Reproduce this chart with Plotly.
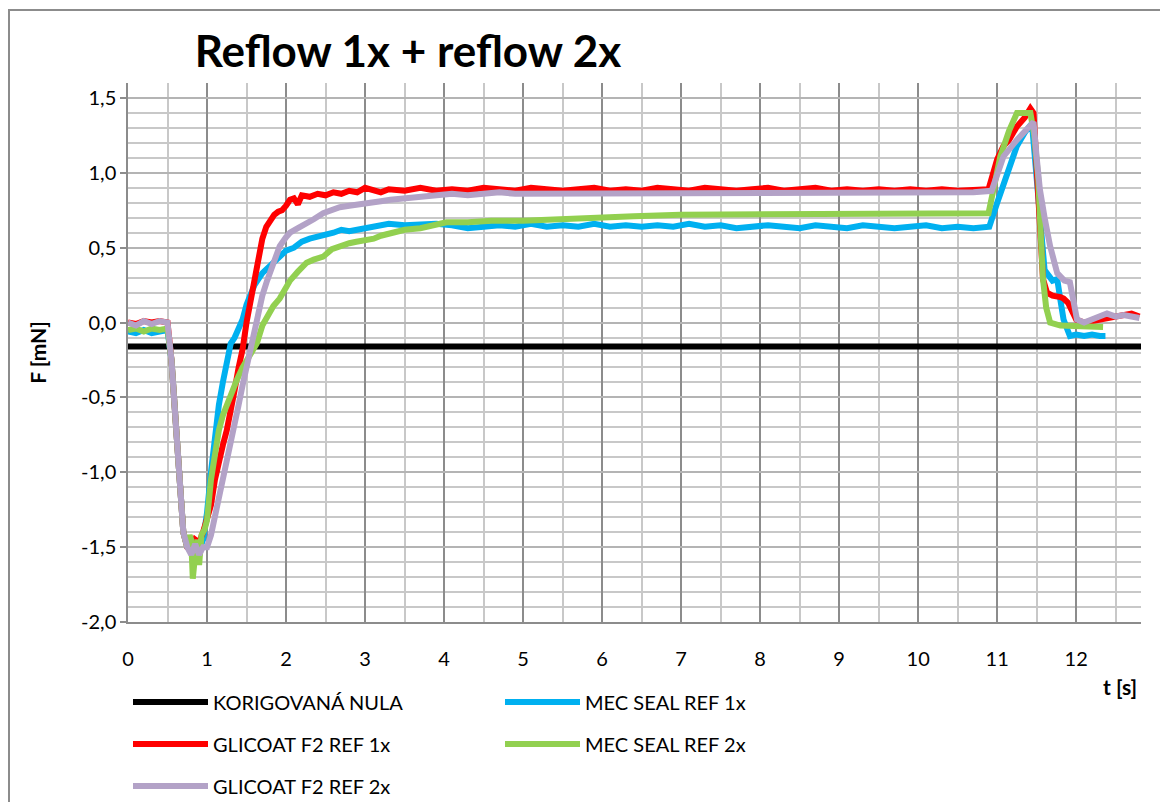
import plotly.graph_objects as go

# ---------------- data ----------------
zero_t = [0.0, 12.82]
zero_f = [-0.16, -0.16]

blue_pts = [
    (0.0, -0.06), (0.1, -0.07), (0.2, -0.05), (0.3, -0.07), (0.4, -0.06), (0.5, -0.05),
    (0.55, -0.25), (0.6, -0.6), (0.65, -1.05), (0.7, -1.4), (0.75, -1.5), (0.8, -1.53),
    (0.85, -1.5), (0.9, -1.52), (0.95, -1.45), (1.0, -1.27), (1.05, -1.0), (1.1, -0.75),
    (1.15, -0.55), (1.2, -0.4), (1.25, -0.25), (1.3, -0.14), (1.35, -0.1), (1.4, -0.05),
    (1.45, 0.02), (1.5, 0.12), (1.55, 0.2), (1.6, 0.25), (1.7, 0.33), (1.8, 0.38),
    (1.9, 0.43), (2.0, 0.48), (2.1, 0.5), (2.2, 0.54), (2.3, 0.56), (2.4, 0.57),
    (2.5, 0.58), (2.6, 0.6), (2.7, 0.62), (2.8, 0.61), (2.9, 0.62), (3.0, 0.63),
    (3.1, 0.64), (3.2, 0.64), (3.3, 0.66), (3.5, 0.65), (3.7, 0.66), (3.9, 0.66),
    (4.1, 0.65), (4.3, 0.63), (4.5, 0.64), (4.7, 0.65), (4.9, 0.64), (5.1, 0.66),
    (5.3, 0.64), (5.5, 0.65), (5.7, 0.64), (5.9, 0.66), (6.1, 0.64), (6.3, 0.65),
    (6.5, 0.64), (6.7, 0.65), (6.9, 0.64), (7.1, 0.66), (7.3, 0.64), (7.5, 0.65),
    (7.7, 0.63), (7.9, 0.64), (8.1, 0.65), (8.3, 0.64), (8.5, 0.63), (8.7, 0.65),
    (8.9, 0.64), (9.1, 0.63), (9.3, 0.65), (9.5, 0.64), (9.7, 0.63), (9.9, 0.64),
    (10.1, 0.65), (10.3, 0.63), (10.5, 0.64), (10.7, 0.63), (10.9, 0.64), (11.0, 0.8),
    (11.1, 0.96), (11.25, 1.18), (11.35, 1.27), (11.44, 1.33), (11.5, 0.96), (11.55, 0.6),
    (11.6, 0.35), (11.7, 0.28), (11.76, 0.29), (11.8, 0.15), (11.84, 0.02), (11.92, -0.09),
    (12.0, -0.08), (12.1, -0.09), (12.2, -0.08), (12.3, -0.09), (12.37, -0.09),
]

red_pts = [
    (0.0, 0.0), (0.1, -0.01), (0.2, 0.01), (0.3, 0.0), (0.4, 0.01), (0.5, 0.0),
    (0.55, -0.25), (0.6, -0.6), (0.65, -1.05), (0.7, -1.4), (0.75, -1.5), (0.8, -1.52),
    (0.85, -1.45), (0.9, -1.47), (0.95, -1.4), (1.0, -1.32), (1.05, -1.22), (1.1, -1.05),
    (1.15, -0.92), (1.2, -0.82), (1.25, -0.72), (1.3, -0.6), (1.35, -0.45), (1.4, -0.3),
    (1.45, -0.18), (1.5, 0.0), (1.55, 0.15), (1.6, 0.3), (1.65, 0.45), (1.7, 0.56),
    (1.75, 0.64), (1.8, 0.69), (1.85, 0.72), (1.9, 0.74), (1.95, 0.75), (2.0, 0.78),
    (2.05, 0.82), (2.1, 0.83), (2.15, 0.79), (2.2, 0.85), (2.3, 0.84), (2.4, 0.86),
    (2.5, 0.85), (2.6, 0.87), (2.7, 0.86), (2.8, 0.88), (2.9, 0.87), (3.0, 0.9),
    (3.1, 0.88), (3.2, 0.87), (3.3, 0.89), (3.5, 0.88), (3.7, 0.9), (3.9, 0.88),
    (4.1, 0.89), (4.3, 0.88), (4.5, 0.9), (4.7, 0.89), (4.9, 0.88), (5.1, 0.9),
    (5.3, 0.89), (5.5, 0.88), (5.7, 0.89), (5.9, 0.9), (6.1, 0.88), (6.3, 0.89),
    (6.5, 0.88), (6.7, 0.9), (6.9, 0.89), (7.1, 0.88), (7.3, 0.9), (7.5, 0.89),
    (7.7, 0.88), (7.9, 0.89), (8.1, 0.9), (8.3, 0.88), (8.5, 0.89), (8.7, 0.9),
    (8.9, 0.88), (9.1, 0.89), (9.3, 0.88), (9.5, 0.89), (9.7, 0.88), (9.9, 0.89),
    (10.1, 0.88), (10.3, 0.89), (10.5, 0.88), (10.7, 0.89), (10.89, 0.89), (11.0, 1.09),
    (11.08, 1.18), (11.15, 1.22), (11.25, 1.31), (11.35, 1.37), (11.42, 1.43), (11.46, 1.4),
    (11.5, 1.0), (11.55, 0.5), (11.58, 0.29), (11.63, 0.2), (11.7, 0.18), (11.8, 0.17),
    (11.84, 0.16), (11.9, 0.13), (11.95, 0.08), (12.0, 0.02), (12.1, 0.0), (12.2, 0.01),
    (12.3, 0.03), (12.4, 0.04), (12.5, 0.05), (12.6, 0.05), (12.7, 0.06), (12.8, 0.04),
]

green_pts = [
    (0.0, -0.05), (0.1, -0.04), (0.2, -0.06), (0.3, -0.04), (0.4, -0.05), (0.5, -0.04),
    (0.55, -0.25), (0.6, -0.6), (0.65, -1.05), (0.7, -1.4), (0.75, -1.5), (0.78, -1.42),
    (0.8, -1.45), (0.82, -1.71), (0.85, -1.55), (0.88, -1.45), (0.9, -1.62), (0.93, -1.42),
    (0.97, -1.38), (1.0, -1.32), (1.05, -1.05), (1.1, -0.85), (1.15, -0.72), (1.2, -0.62),
    (1.25, -0.55), (1.3, -0.48), (1.38, -0.38), (1.45, -0.3), (1.5, -0.25), (1.55, -0.2),
    (1.63, -0.14), (1.7, -0.02), (1.8, 0.08), (1.84, 0.11), (1.92, 0.16), (2.05, 0.28),
    (2.15, 0.34), (2.26, 0.4), (2.35, 0.42), (2.47, 0.44), (2.58, 0.49), (2.68, 0.51),
    (2.8, 0.53), (2.89, 0.54), (3.0, 0.55), (3.11, 0.56), (3.2, 0.58), (3.32, 0.6),
    (3.5, 0.62), (3.7, 0.63), (3.9, 0.65), (4.03, 0.67), (4.3, 0.67), (4.6, 0.68),
    (5.0, 0.68), (5.4, 0.69), (5.72, 0.7), (6.0, 0.7), (6.4, 0.71), (6.99, 0.72),
    (7.5, 0.72), (8.0, 0.73), (8.5, 0.73), (9.0, 0.73), (9.5, 0.73), (10.0, 0.73),
    (10.5, 0.73), (10.89, 0.73), (11.04, 1.11), (11.15, 1.28), (11.25, 1.4), (11.35, 1.4),
    (11.42, 1.4), (11.47, 1.25), (11.52, 0.96), (11.55, 0.6), (11.58, 0.29), (11.62, 0.1),
    (11.67, 0.0), (11.8, -0.02), (11.92, -0.02), (12.1, -0.03), (12.34, -0.03),
]

purple_pts = [
    (0.0, 0.0), (0.1, -0.02), (0.2, 0.01), (0.3, -0.01), (0.4, 0.01), (0.5, 0.0),
    (0.55, -0.25), (0.6, -0.6), (0.65, -1.05), (0.7, -1.4), (0.75, -1.5), (0.8, -1.55),
    (0.85, -1.48), (0.9, -1.55), (0.95, -1.5), (1.0, -1.5), (1.05, -1.42), (1.1, -1.3),
    (1.15, -1.15), (1.2, -1.05), (1.25, -0.95), (1.3, -0.82), (1.35, -0.68), (1.4, -0.55),
    (1.45, -0.42), (1.5, -0.3), (1.55, -0.18), (1.6, -0.02), (1.65, 0.08), (1.7, 0.18),
    (1.76, 0.28), (1.85, 0.42), (1.92, 0.51), (2.0, 0.57), (2.05, 0.6), (2.15, 0.63),
    (2.26, 0.66), (2.35, 0.69), (2.47, 0.73), (2.58, 0.75), (2.68, 0.77), (2.8, 0.78),
    (2.9, 0.79), (3.0, 0.8), (3.1, 0.81), (3.2, 0.81), (3.32, 0.82), (3.5, 0.83),
    (3.7, 0.84), (3.9, 0.85), (4.1, 0.86), (4.3, 0.85), (4.5, 0.86), (4.7, 0.87),
    (4.9, 0.86), (5.1, 0.86), (5.3, 0.87), (5.5, 0.86), (5.7, 0.87), (5.9, 0.86),
    (6.1, 0.87), (6.3, 0.86), (6.5, 0.87), (6.7, 0.86), (6.9, 0.86), (7.1, 0.87),
    (7.3, 0.86), (7.5, 0.87), (7.7, 0.86), (7.9, 0.87), (8.1, 0.86), (8.3, 0.87),
    (8.5, 0.86), (8.7, 0.87), (8.9, 0.86), (9.1, 0.87), (9.3, 0.86), (9.5, 0.87),
    (9.7, 0.87), (9.9, 0.86), (10.1, 0.87), (10.3, 0.86), (10.5, 0.87), (10.7, 0.87),
    (10.93, 0.88), (11.08, 1.11), (11.25, 1.22), (11.35, 1.28), (11.46, 1.34), (11.5, 1.1),
    (11.54, 0.89), (11.6, 0.7), (11.67, 0.51), (11.76, 0.33), (11.85, 0.28), (11.92, 0.27),
    (11.97, 0.15), (12.01, 0.02), (12.1, 0.0), (12.2, 0.02), (12.3, 0.04), (12.39, 0.06),
    (12.5, 0.04), (12.6, 0.05), (12.7, 0.04), (12.8, 0.03),
]

blue_t = [p[0] for p in blue_pts]
blue_f = [p[1] for p in blue_pts]
red_t = [p[0] for p in red_pts]
red_f = [p[1] for p in red_pts]
green_t = [p[0] for p in green_pts]
green_f = [p[1] for p in green_pts]
purple_t = [p[0] for p in purple_pts]
purple_f = [p[1] for p in purple_pts]

x_ticks = list(range(0, 13))
y_ticks = [1.5, 1.0, 0.5, 0.0, -0.5, -1.0, -1.5, -2.0]
y_tick_text = ["1,5", "1,0", "0,5", "0,0", "-0,5", "-1,0", "-1,5", "-2,0"]

# ---------------- figure ----------------
FONT = "Lato"
OFF = 8                      # page body margin
W, H = 1160, 794             # figure size (page is 1168 x 802)
L, R, T, B = 120, 27, 75, 180
pw, ph = W - L - R, H - T - B
PL, PB = L + OFF, T + OFF + ph   # plot left / bottom in page pixels


def px_x(p):
    return (p - PL) / pw


def px_y(p):
    return (PB - p) / ph


fig = go.Figure()
LW = 6
fig.add_trace(go.Scatter(x=zero_t, y=zero_f, mode="lines", name="KORIGOVANÁ NULA",
                         line=dict(color="#000000", width=LW), legend="legend"))
fig.add_trace(go.Scatter(x=blue_t, y=blue_f, mode="lines", name="MEC SEAL REF 1x",
                         line=dict(color="#00B0F0", width=LW), legend="legend"))
fig.add_trace(go.Scatter(x=red_t, y=red_f, mode="lines", name="GLICOAT F2 REF 1x",
                         line=dict(color="#FF0000", width=LW), legend="legend2"))
fig.add_trace(go.Scatter(x=green_t, y=green_f, mode="lines", name="MEC SEAL REF 2x",
                         line=dict(color="#92D050", width=LW), legend="legend2"))
fig.add_trace(go.Scatter(x=purple_t, y=purple_f, mode="lines", name="GLICOAT F2 REF 2x",
                         line=dict(color="#B3A2C7", width=LW), legend="legend3"))

leg_common = dict(orientation="h", xanchor="left", yanchor="middle",
                  entrywidth=282, entrywidthmode="pixels",
                  font=dict(family=FONT, size=20, color="#000000"),
                  bgcolor="rgba(0,0,0,0)", itemwidth=75, traceorder="normal")

fig.update_layout(
    width=W, height=H,
    margin=dict(l=L, r=R, t=T, b=B, autoexpand=False),
    paper_bgcolor="white", plot_bgcolor="white",
    separators=", ",
    font=dict(family=FONT, size=20, color="#000000"),
    showlegend=True,
    legend=dict(x=px_x(128), y=px_y(702), **leg_common),
    legend2=dict(x=px_x(128), y=px_y(744), **leg_common),
    legend3=dict(x=px_x(128), y=px_y(786), **leg_common),
    title=dict(text="<b>Reflow 1x + reflow 2x</b>", x=(408 - OFF) / W, xanchor="center",
               y=1 - (52 - OFF) / H, yanchor="middle",
               font=dict(family=FONT, size=44, color="#000000")),
    xaxis=dict(range=[0, 12.82], tickmode="array", tickvals=x_ticks,
               ticktext=[str(v) for v in x_ticks],
               showgrid=True, gridcolor="#8C8C8C", gridwidth=1.5,
               minor=dict(dtick=0.5, showgrid=True, gridcolor="#C8C8C8", gridwidth=1.5),
               showline=True, linecolor="#8C8C8C", linewidth=1.5,
               zeroline=False, ticks="", ticklabelstandoff=18,
               tickfont=dict(family=FONT, size=20)),
    yaxis=dict(range=[-2.0, 1.6], tickmode="array", tickvals=y_ticks,
               ticktext=y_tick_text,
               showgrid=True, gridcolor="#B4B4B4", gridwidth=1.5,
               minor=dict(dtick=0.1, showgrid=True, gridcolor="#C8C8C8", gridwidth=1.5),
               showline=True, linecolor="#8C8C8C", linewidth=1.5,
               zeroline=False, ticks="outside", ticklen=6, tickcolor="#8C8C8C",
               tickwidth=1.5, tickfont=dict(family=FONT, size=20),
               title=dict(text="<b>F [mN]</b>", standoff=29,
                          font=dict(family=FONT, size=21))),
    annotations=[dict(text="<b>t [s]</b>", xref="paper", yref="paper",
                      x=px_x(1120), y=px_y(686), xanchor="center", yanchor="middle",
                      showarrow=False, font=dict(family=FONT, size=21, color="#000000"))],
    shapes=[dict(type="rect", xref="paper", yref="paper",
                 x0=px_x(9), x1=px_x(1200), y0=px_y(830), y1=px_y(10),
                 line=dict(color="#8C8C8C", width=2), fillcolor="rgba(0,0,0,0)",
                 layer="below")],
)

fig.write_html("out.html")
